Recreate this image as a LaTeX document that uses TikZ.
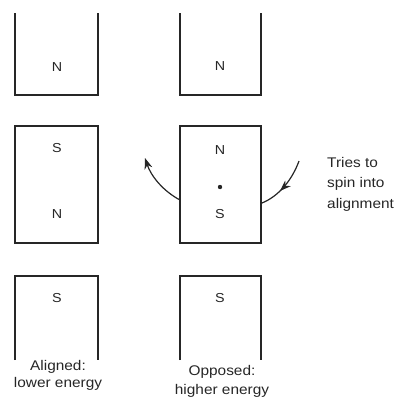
\documentclass[tikz,border=0pt]{standalone}
\usepackage{fontspec}
\setmainfont{Liberation Sans}[FakeStretch=1.1]
\usetikzlibrary{arrows.meta,decorations.markings}
\begin{document}
\begin{tikzpicture}[x=1pt,y=-1pt,
  wall/.style={draw=black!85,line width=1.2pt},
  lbl/.style={font=\fontsize{13}{20}\selectfont,text=black!85,inner sep=0pt},
  captext/.style={font=\fontsize{14}{17}\selectfont,text=black!85,align=center,inner sep=0pt},
  spin/.style={draw=black!85,line width=1.2pt},
  tiparrow/.style={-{Stealth[length=11pt,width=8pt]}}]
\useasboundingbox (0,0) rectangle (398,397);
\clip (0,0) rectangle (398,397);
% left column
\draw[wall] (15,13) -- (15,95) -- (98,95) -- (98,13);
\draw[wall] (15,126) rectangle (98,243);
\draw[wall] (15,360) -- (15,276) -- (98,276) -- (98,360);
% right column
\draw[wall] (180,13) -- (180,95) -- (261,95) -- (261,13);
\draw[wall] (180,126) rectangle (261,243);
\draw[wall] (180,360) -- (180,276) -- (261,276) -- (261,360);
% pole labels
\node[lbl] (n1) at (57,67) {N};
\node[lbl] (s2) at (57,148) {S};
\node[lbl] (n2) at (57,214) {N};
\node[lbl] (s3) at (57,298) {S};
\node[lbl] (n4) at (220,66) {N};
\node[lbl] (n5) at (220,150) {N};
\node[lbl] (s5) at (220,214) {S};
\node[lbl] (s6) at (220,298) {S};
\fill[black!85] (220,187) circle (2.2pt);
% spin arrows
\coordinate (la) at (180,200);
\coordinate (lb) at (145,158);
\draw[spin,tiparrow] (la) .. controls (163,191) and (151,176) .. (lb);
\coordinate (ra) at (299,161);
\coordinate (rb) at (262,203);
\draw[spin,postaction={decorate},decoration={markings,
  mark=at position 0.62 with {\arrow{Stealth[length=11pt,width=8pt]}}}]
  (ra) .. controls (292,180) and (279,196) .. (rb);
% captions
\node[captext,anchor=north west,align=left,font=\fontsize{14}{20.5}\selectfont] (tries) at (327,157) {Tries to\\spin into\\alignment};
\node[captext] (al) at (58,375) {Aligned:\\lower energy};
\node[captext,font=\fontsize{14}{19}\selectfont] (op) at (222,381) {Opposed:\\higher energy};
\end{tikzpicture}
\end{document}
